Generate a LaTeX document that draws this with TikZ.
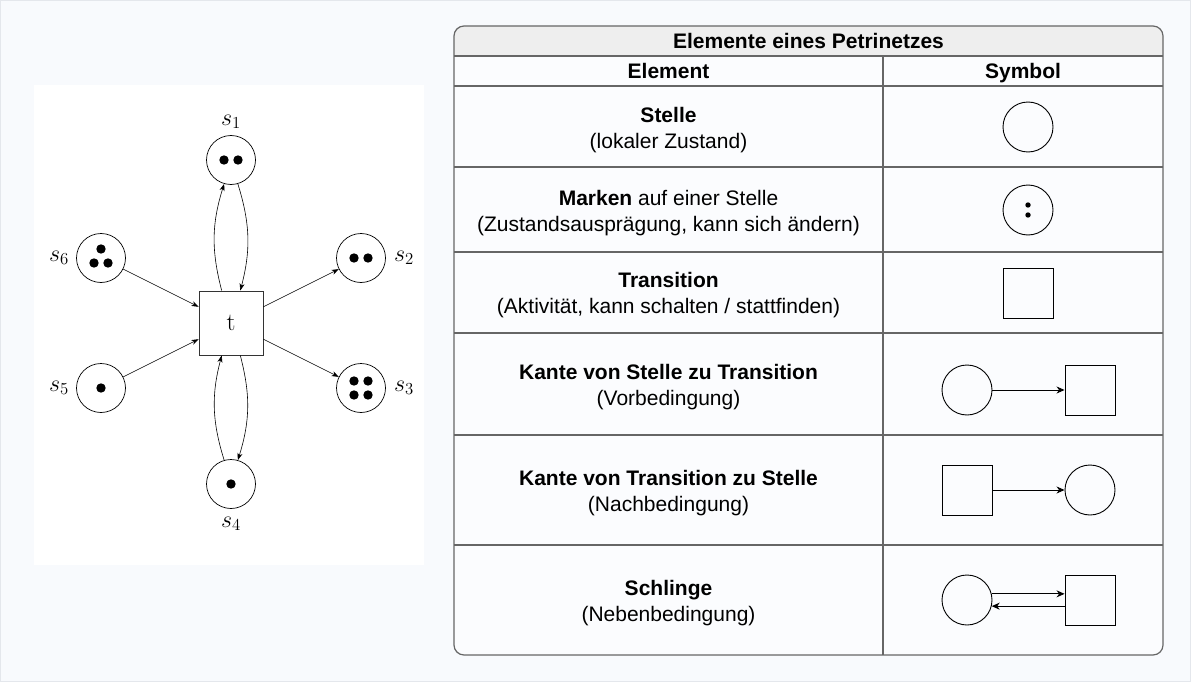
\RequirePackage{fix-cm}
\documentclass[tikz,border=0pt]{standalone}
\usepackage{fontspec}
\newfontfamily\tabfont{Liberation Sans}
\usetikzlibrary{arrows.meta,calc}
\definecolor{bgblue}{HTML}{F8FAFD}
\definecolor{framegrey}{HTML}{E4E7EC}
\definecolor{tabline}{HTML}{666666}
\definecolor{headfill}{HTML}{EEEEEE}
\definecolor{bodyfill}{HTML}{FBFCFE}
\newcommand{\pnfont}{\fontsize{24}{28}\selectfont}

\begin{document}
\begin{tikzpicture}[x=1pt,y=-1pt,
    place/.style={circle,draw,minimum size=49pt,inner sep=0pt,line width=0.7pt},
    transbox/.style={draw=black!80,minimum size=64pt,inner sep=0pt,line width=0.9pt},
    pnlabel/.style={font=\pnfont,inner sep=2pt},
    pnarc/.style={-{Stealth[length=7pt,width=5pt,inset=2pt]},line width=0.6pt},
    symplace/.style={circle,draw,minimum size=50pt,inner sep=0pt,line width=0.9pt},
    symtrans/.style={draw,minimum size=50pt,inner sep=0pt,line width=0.9pt},
    symarc/.style={-{Stealth[length=8pt,width=7pt,inset=2.5pt]},line width=0.9pt},
    celltext/.style={font={\tabfont\fontsize{21}{26}\selectfont},align=center,inner sep=0pt},
    headtext/.style={celltext,text height=15pt,text depth=4.5pt},
    ]
    %% background
    \useasboundingbox (0,0) rectangle (1191,682);
    \fill[bgblue] (0,0) rectangle (1191,682);
    \draw[framegrey] (0.5,0.5) rectangle (1190.5,681.5);
    \fill[white] (34,85) rectangle (424,565);

    %% Petrinetz
    \node[transbox] (t) at (231,323) {\fontsize{25}{30}\selectfont t};
    \node[place,label={[pnlabel,label distance=4pt]above:$s_1$}] (s1) at (231,160) {};
    \node[place,label={[pnlabel,label distance=6pt]right:$s_2$}] (s2) at (361,258) {};
    \node[place,label={[pnlabel,label distance=6pt]right:$s_3$}] (s3) at (361,388) {};
    \node[place,label={[pnlabel,label distance=6pt]below:$s_4$}] (s4) at (231,484) {};
    \node[place,label={[pnlabel,label distance=5pt]left:$s_5$}] (s5) at (101,388) {};
    \node[place,label={[pnlabel,label distance=5pt]left:$s_6$}] (s6) at (101,258) {};
    % Marken
    \foreach \P/\X/\Y in {s1/-7/0, s1/7/0, s2/-7/0, s2/7/0,
        s3/-7/-7, s3/7/-7, s3/-7/7, s3/7/7, s4/0/0, s5/0/0,
        s6/0/-9, s6/-7/5, s6/7/5}
    {
    \fill ($(\P)+(\X,\Y)$) circle (4.7);
    }
    % Kanten
    \foreach \A/\B in {s6/t, s5/t, t/s2, t/s3}
    {
    \draw[pnarc] (\A) -- (\B);
    }
    \foreach \A/\B in {t/s1, s1/t, t/s4, s4/t}
    {
    \draw[pnarc] (\A) to[bend left=16] (\B);
    }

    %% Tabelle
    \begin{scope}
    \clip[rounded corners=10] (454,26) rectangle (1163,655);
    \fill[bodyfill] (454,26) rectangle (1163,655);
    \fill[headfill] (454,26) rectangle (1163,56);
    \end{scope}
    \foreach \Y in {56,86,167,252,333,435,545}
    {
    \draw[tabline,line width=1.2pt] (454,\Y) -- (1163,\Y);
    }
    \draw[tabline,line width=1.2pt] (883,56) -- (883,655);
    \draw[tabline,line width=1.2pt,rounded corners=10] (454,26) rectangle (1163,655);

    \node[headtext] (title) at (808.5,43) {\textbf{Elemente eines Petrinetzes}};
    \node[headtext] (colElement) at (668.5,73) {\textbf{Element}};
    \node[headtext] (colSymbol) at (1023,73) {\textbf{Symbol}};
    \node[celltext] (rowStelle) at (668.5,130) {\textbf{Stelle}\\(lokaler Zustand)};
    \node[celltext] (rowMarken) at (668.5,213) {\textbf{Marken} auf einer Stelle\\(Zustandsausprägung, kann sich ändern)};
    \node[celltext] (rowTrans) at (668.5,295) {\textbf{Transition}\\(Aktivität, kann schalten / stattfinden)};
    \node[celltext] (rowVor) at (668.5,387) {\textbf{Kante von Stelle zu Transition}\\(Vorbedingung)};
    \node[celltext] (rowNach) at (668.5,493) {\textbf{Kante von Transition zu Stelle}\\(Nachbedingung)};
    \node[celltext] (rowSchlinge) at (668.5,603) {\textbf{Schlinge}\\(Nebenbedingung)};

    % Symbole
    \node[symplace] (symStelle) at (1028,127) {};
    \node[symplace] (symMarken) at (1028,210) {};
    \fill ($(symMarken)+(0,-5)$) circle (2.7);
    \fill ($(symMarken)+(0,5)$) circle (2.7);
    \node[symtrans] (symTrans) at (1028,293) {};
    \node[symplace] (vorS) at (967,390) {};
    \node[symtrans] (vorT) at (1090,390) {};
    \draw[symarc] (vorS) -- (vorT);
    \node[symtrans] (nachT) at (967,490) {};
    \node[symplace] (nachS) at (1090,490) {};
    \draw[symarc] (nachT) -- (nachS);
    \node[symplace] (schS) at (967,600) {};
    \node[symtrans] (schT) at (1090,600) {};
    \draw[symarc] (schS.14) -- (schS.14 -| schT.west);
    \draw[symarc] (schS.-14 -| schT.west) -- (schS.-14);
\end{tikzpicture}
\end{document}
